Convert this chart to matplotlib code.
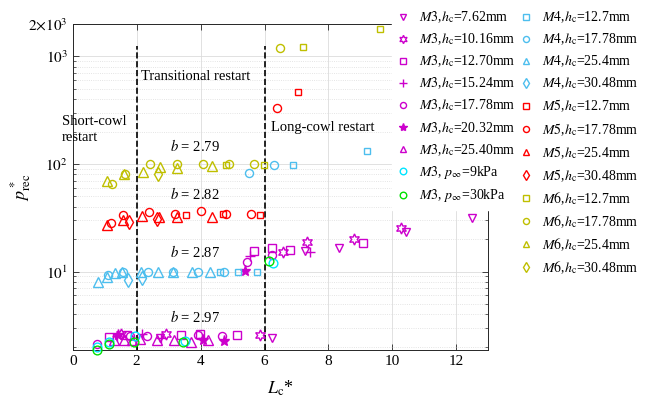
import numpy as np
import matplotlib
matplotlib.use('Agg')
import matplotlib.pyplot as plt
from matplotlib.ticker import NullFormatter, LogLocator

plt.rcParams['font.family'] = ['Liberation Serif', 'DejaVu Serif']
plt.rcParams['mathtext.fontset'] = 'stix'
plt.rcParams['font.size'] = 10

# colours
c_m3 = '#CC00CC'
c_9k = '#00E5FF'
c_30k = '#00E000'
c_m4 = '#4DBEEE'
c_m5 = '#FF0000'
c_m6 = '#BFBF00'

# ---- data ----
# M3
m3_762_x = [2.72, 6.22, 7.26, 8.32, 10.44, 12.5]
m3_762_y = [2.4, 2.4, 15.4, 16.6, 23.4, 31.5]
m3_1016_x = [1.5, 2.92, 5.85, 6.58, 7.34, 8.8, 10.28]
m3_1016_y = [2.6, 2.6, 2.55, 15.2, 18.9, 20.1, 25.5]
m3_1270_x = [1.14, 1.69, 3.4, 3.98, 5.13, 5.66, 6.24, 6.79, 9.08]
m3_1270_y = [2.48, 2.55, 2.55, 2.65, 2.55, 15.4, 16.4, 16.0, 18.5]
m3_1524_x = [1.4, 2.16, 2.75, 5.55, 7.42]
m3_1524_y = [2.5, 2.6, 2.4, 14.0, 15.2]
m3_1778_x = [0.77, 1.8, 2.33, 3.93, 4.68, 5.44, 6.24]
m3_1778_y = [2.1, 2.5, 2.5, 2.55, 2.5, 12.2, 14.2]
m3_2032_x = [1.42, 4.08, 4.73, 5.39]
m3_2032_y = [2.55, 2.3, 2.25, 10.1]
m3_2540_x = [1.3, 1.6, 1.85, 2.1, 2.64, 3.17, 3.7, 4.23]
m3_2540_y = [2.3, 2.3, 2.3, 2.35, 2.3, 2.3, 2.2, 2.3]
m3_9k_x = [0.77, 1.14, 1.95, 3.5, 6.27]
m3_9k_y = [2.0, 2.2, 2.5, 2.25, 12.0]
m3_30k_x = [0.77, 1.14, 1.92, 3.46, 6.13]
m3_30k_y = [1.86, 2.14, 2.22, 2.22, 12.5]
# M4
m4_127_x = [4.6, 5.18, 5.75, 6.9, 9.2]
m4_127_y = [10, 10, 10, 97, 133]
m4_1778_x = [1.1, 1.58, 2.36, 3.14, 3.93, 4.74, 5.5, 6.29]
m4_1778_y = [9.2, 10, 10, 10, 10, 10, 83, 97]
m4_254_x = [0.78, 1.06, 1.32, 1.55, 2.13, 2.68, 3.14, 3.72, 4.29]
m4_254_y = [8.0, 8.85, 9.7, 9.9, 10, 10, 10, 10, 10]
m4_3048_x = [1.74, 2.18]
m4_3048_y = [8.4, 8.7]
# M5
m5_127_x = [3.53, 4.71, 5.85, 7.05]
m5_127_y = [33.4, 33.9, 33.8, 466]
m5_1778_x = [1.2, 1.58, 2.4, 3.2, 4.0, 4.81, 5.59, 6.38]
m5_1778_y = [28.3, 33.8, 35.8, 34.6, 36.8, 34.6, 34.0, 331]
m5_254_x = [1.06, 1.58, 2.16, 2.7, 3.25, 4.35]
m5_254_y = [26.9, 30.4, 32.6, 32.0, 32.2, 32.2]
m5_3048_x = [1.76, 2.64]
m5_3048_y = [28.7, 30.8]
# M6
m6_127_x = [4.81, 5.99, 7.21, 9.62]
m6_127_y = [97, 97, 1227, 1790]
m6_1778_x = [1.22, 1.63, 2.42, 3.25, 4.06, 4.88, 5.67, 6.48]
m6_1778_y = [65, 80, 100, 100, 100, 100, 100, 1195]
m6_254_x = [1.06, 1.61, 2.19, 2.73, 3.25, 4.37]
m6_254_y = [69, 80, 85, 93, 92, 95]
m6_3048_x = [2.68]
m6_3048_y = [81]

hexagram = (6, 1, 0)

series1 = [
    (m3_762_x, m3_762_y, 'v', c_m3, r'$\mathit{M3}$,$h_{\rm c}$=7.62mm', 6, False),
    (m3_1016_x, m3_1016_y, hexagram, c_m3, r'$\mathit{M3}$,$h_{\rm c}$=10.16mm', 8, False),
    (m3_1270_x, m3_1270_y, 's', c_m3, r'$\mathit{M3}$,$h_{\rm c}$=12.70mm', 5.5, False),
    (m3_1524_x, m3_1524_y, '+', c_m3, r'$\mathit{M3}$,$h_{\rm c}$=15.24mm', 7, False),
    (m3_1778_x, m3_1778_y, 'o', c_m3, r'$\mathit{M3}$,$h_{\rm c}$=17.78mm', 5.8, False),
    (m3_2032_x, m3_2032_y, '*', c_m3, r'$\mathit{M3}$,$h_{\rm c}$=20.32mm', 8, True),
    (m3_2540_x, m3_2540_y, '^', c_m3, r'$\mathit{M3}$,$h_{\rm c}$=25.40mm', 6.5, False),
    (m3_9k_x, m3_9k_y, 'o', c_9k, r'$\mathit{M3}$, $p_{\infty}$=9kPa', 6.3, False),
    (m3_30k_x, m3_30k_y, 'o', c_30k, r'$\mathit{M3}$, $p_{\infty}$=30kPa', 6.3, False),
]
series2 = [
    (m4_127_x, m4_127_y, 's', c_m4, r'$\mathit{M4}$,$h_{\rm c}$=12.7mm', 5, False),
    (m4_1778_x, m4_1778_y, 'o', c_m4, r'$\mathit{M4}$,$h_{\rm c}$=17.78mm', 5.8, False),
    (m4_254_x, m4_254_y, '^', c_m4, r'$\mathit{M4}$,$h_{\rm c}$=25.4mm', 6.5, False),
    (m4_3048_x, m4_3048_y, 'd', c_m4, r'$\mathit{M4}$,$h_{\rm c}$=30.48mm', 7, False),
    (m5_127_x, m5_127_y, 's', c_m5, r'$\mathit{M5}$,$h_{\rm c}$=12.7mm', 5, False),
    (m5_1778_x, m5_1778_y, 'o', c_m5, r'$\mathit{M5}$,$h_{\rm c}$=17.78mm', 5.8, False),
    (m5_254_x, m5_254_y, '^', c_m5, r'$\mathit{M5}$,$h_{\rm c}$=25.4mm', 6.5, False),
    (m5_3048_x, m5_3048_y, 'd', c_m5, r'$\mathit{M5}$,$h_{\rm c}$=30.48mm', 7, False),
    (m6_127_x, m6_127_y, 's', c_m6, r'$\mathit{M6}$,$h_{\rm c}$=12.7mm', 5, False),
    (m6_1778_x, m6_1778_y, 'o', c_m6, r'$\mathit{M6}$,$h_{\rm c}$=17.78mm', 5.8, False),
    (m6_254_x, m6_254_y, '^', c_m6, r'$\mathit{M6}$,$h_{\rm c}$=25.4mm', 6.5, False),
    (m6_3048_x, m6_3048_y, 'd', c_m6, r'$\mathit{M6}$,$h_{\rm c}$=30.48mm', 7, False),
]

y_bottom = 1.87

fig = plt.figure(figsize=(6.63, 4.04), dpi=100)
ax = fig.add_axes([0.1097, 0.134, 0.6268, 0.8066])

def draw(series):
    hs = []
    for x, y, mk, col, lab, ms, filled in series:
        h, = ax.plot(x, y, linestyle='none', marker=mk, markersize=ms,
                     markeredgecolor=col, markerfacecolor=col if filled else 'none',
                     markeredgewidth=1.0, label=lab, clip_on=False, zorder=3)
        hs.append(h)
    return hs

h1 = draw(series1)
h2 = draw(series2)

# region boundaries
ax.plot([2, 2], [y_bottom, 1240], 'k--', lw=1.2, zorder=2)
ax.plot([6, 6], [y_bottom, 1240], 'k--', lw=1.2, zorder=2)

ax.set_yscale('log')
ax.set_xlim(0, 13)
ax.set_ylim(y_bottom, 2000)
ax.set_xticks([0, 2, 4, 6, 8, 10, 12])
ax.set_yticks([10, 100, 1000, 2000])
ax.set_yticklabels([r'$10^{1}$', r'$10^{2}$', r'$10^{3}$', r'$2{\times}10^{3}$'], fontsize=11)
ax.yaxis.set_minor_locator(LogLocator(base=10, subs=np.arange(2, 10)))
ax.yaxis.set_minor_formatter(NullFormatter())
ax.tick_params(axis='x', labelsize=11)
ax.tick_params(which='both', direction='in', top=True, right=True, color='#262626')
ax.tick_params(which='major', length=4, width=0.6)
ax.tick_params(which='minor', length=2.5, width=0.5)

ax.grid(True, which='major', color='#DCDCDC', lw=0.6, ls='-')
ax.yaxis.grid(True, which='minor', color='#DCDCDC', lw=0.6, ls=':')
ax.set_axisbelow(True)
for s in ax.spines.values():
    s.set_color('#262626')
    s.set_linewidth(0.7)

ax.set_xlabel(r'$L_{\rm c}$*', fontsize=13, labelpad=8)
ax.set_ylabel(r'$p^*_{\rm rec}$', fontsize=13)
ax.yaxis.set_label_coords(-0.095, 0.5)

# annotations
ax.text(-0.33, 208, 'Short-cowl\nrestart', fontsize=10.5, ha='left', va='center',
        linespacing=1.25, clip_on=False)
ax.text(2.13, 646, 'Transitional restart', fontsize=10.5, ha='left', va='center')
ax.text(6.19, 220, 'Long-cowl restart', fontsize=10.5, ha='left', va='center')
b_vals = ['2.79', '2.82', '2.87', '2.97']
b_ys = [148, 53, 15.1, 3.8]
for bv, by in zip(b_vals, b_ys):
    ax.text(3.04, by, r'$b$ = ' + bv, fontsize=10.5, ha='left', va='center')

leg_kw = dict(loc='upper left', fontsize=10, frameon=True, fancybox=False,
              framealpha=1, edgecolor='white', facecolor='white',
              handlelength=0.8, handletextpad=0.75, labelspacing=0.464,
              borderpad=0.4, borderaxespad=0, markerscale=0.75)
leg1 = fig.legend(h1, [s[4] for s in series1], bbox_to_anchor=(392 / 663, 1 - 4 / 404), **leg_kw)
leg2 = fig.legend(h2, [s[4] for s in series2], bbox_to_anchor=(515 / 663, 1 - 4 / 404), **leg_kw)

fig.savefig('out.png', dpi=100)
